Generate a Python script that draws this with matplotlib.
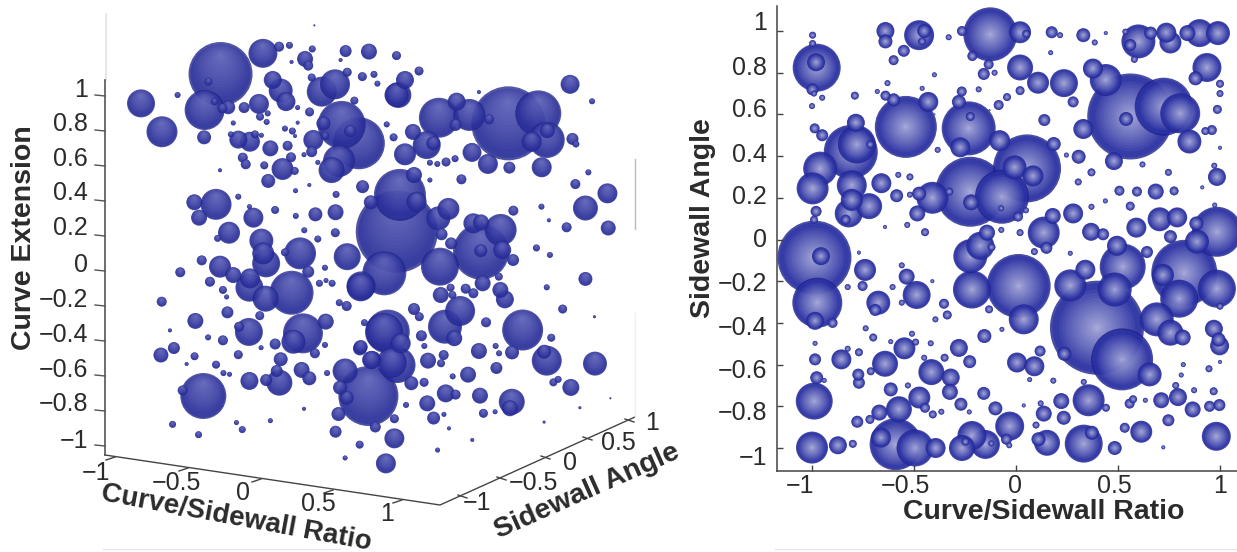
import numpy as np
import matplotlib
matplotlib.use('Agg')
import matplotlib.pyplot as plt
from matplotlib.lines import Line2D
from matplotlib.transforms import Affine2D

plt.rcParams['font.family'] = ['Liberation Sans', 'DejaVu Sans']

# right panel: Curve/Sidewall Ratio vs Sidewall Angle, r = bubble radius
right_x = [-.977,-.98,-.997,-.997,-.998,-.99,-.95,-1.0,-.79,-.64,
 -.64,-.475,-.45,-.46,-.55,-.60,-.33,-.63,-.64,-.60,
 -.68,-.46,-.40,-.43,-.54,-.987,-.95,-.785,-.81,-.78,
 -.715,-.96,-.997,-.805,-.805,-.72,-.82,-.835,-.98,-.99,
 -.66,-.585,-.52,-.577,-.52,-.475,-.41,-.484,-.327,-.446,
 -.533,-.642,-.384,-.988,-.956,-.74,-.56,-.536,-.77,-.126,
 .02,-.265,.05,.175,.216,.33,.386,.44,.17,-.214,
 .02,-.134,-.158,-.105,.108,.235,.28,.377,.44,.6,
 .536,.56,.66,.737,.757,.84,.90,.99,.58,.936,
 .88,1.0,1.0,.987,.56,.724,.805,.85,.928,.96,
 .54,.33,.48,.62,.747,.972,.985,1.0,.913,.685,
 .775,.593,.507,.56,.438,.37,.37,.305,.307,.247,
 .185,.139,.02,-.044,-.085,-.183,-.266,-.28,-.232,-.224,
 -.273,-.08,.054,-.007,.083,-.069,-.224,-.22,-.073,.049,
 .01,.18,.28,.136,-.072,.02,-.142,-.175,-.224,-.12,
 .013,.09,.149,.266,.368,.427,.59,.704,.79,.757,
 .495,.642,.523,.825,.887,.985,.884,.34,.72,.974,
 -.974,-.985,-.899,-.985,-.985,-.977,-.94,-.989,-1.0,-.873,
 -.80,-.856,-.825,-.77,-.773,-.77,-.712,-.642,-.70,-.737,
 -.614,-.547,-.492,-.51,-.418,-.45,-.35,-.415,-.32,-.324,
 -.614,-.53,-.474,-.446,-.408,-.366,-.574,-.67,-.716,-.778,
 -.59,-.662,-.495,-.394,-.675,-.69,-.752,-.825,-.605,-.487,
 -.56,-.353,-.395,-.337,-.41,-.216,.038,-.132,.397,.484,
 .52,.655,.237,.266,.69,.80,.985,1.0,.97,.993,
 .998,.757,.817,.82,.946,1.0,.81,.783,.794,.712,
 .873,.969,.866,.949,.997,.634,.574,.557,.356,.441,
 .222,.121,.136,.234,.098,.038,-.031,-.101,-.158,-.27,
 -.229,-.155,-.28,-.227,-.069,.005,.09,.118,.067,.183,
 .332,-.216,-.15,-.248,-.121,-.265,-.047,-.033,.152,.11,
 .332,.372,.484,.533,.614,.722,.747,.982,-.40,-.13]
right_y = [.824,.85,.98,.94,.72,.70,.68,.64,.69,1.0,
 .95,.98,1.0,.95,.905,.86,.97,.75,.69,.67,
 .71,.725,.79,.66,.54,.533,.50,.56,.42,.456,
 .456,.34,.245,.26,.19,.16,.125,.095,.135,.095,
 .27,.21,.30,.31,.215,.22,.2,.125,.23,.035,
 .07,.06,.43,-.087,-.08,-.146,-.124,-.178,-.063,.984,
 .994,1.0,.986,.994,.98,.98,.945,.99,.896,.88,
 .825,.84,.794,.80,.752,.75,.66,.82,.765,.95,
 .997,.933,.99,.992,.945,.99,.99,.99,.864,.825,
 .773,.747,.70,.624,.59,.637,.605,.47,.52,.525,
 .578,.53,.376,.36,.322,.354,.30,.44,.25,.23,
 .233,.23,.234,.16,.185,.157,.322,.276,.397,.405,
 .458,.573,.714,.683,.645,.72,.71,.66,.533,.59,
 .442,.474,.341,.346,.305,.205,.229,.178,.15,.14,
 .11,.113,.125,.033,.046,.033,.033,-.03,-.08,-.037,
 -.223,-.058,-.04,-.066,.037,.025,.057,.097,.106,.014,
 -.03,-.06,-.13,-.16,-.01,.037,.077,-.145,-.17,.165,
 -.303,-.39,-.40,-.498,-.575,-.663,-.676,-.775,-.998,-.987,
 -.98,-.575,-.524,-.541,-.648,-.687,-.632,-.596,-.47,-.426,
 -.49,-.522,-.492,-.452,-.498,-.567,-.567,-.636,-.662,-.731,
 -.719,-.70,-.758,-.807,-.839,-.826,-.814,-.83,-.863,-.874,
 -.982,-.95,-1.0,-1.0,-.303,-.338,-.223,-.228,-.228,-.266,
 -.303,-.308,-.383,-.362,-.2,-.24,-.383,-.335,-.423,-.24,
 -.575,-.647,-.548,-.22,-.383,-.284,-.236,-.32,-.428,-.48,
 -.51,-.447,-.47,-.60,-.62,-.587,-.65,-.70,-.756,-.771,
 -.723,-.728,-.815,-.80,-.794,-.771,-.766,-.787,-.771,-.807,
 -.775,-.786,-.835,-.855,-.89,-.796,-.895,-.81,-.738,-.79,
 -.827,-.463,-.52,-.586,-.431,-.59,-.608,-.535,-.672,-.677,
 -.683,-.94,-.983,-.97,-.978,-1.0,-.958,-.987,-.975,-.958,
 -.979,-.927,-1.0,-.903,-.922,-.997,-.867,-.944,.6,.62]
right_r = [24,9,3.5,3.5,6,3,3,3,4,9,
 7,15,7,4,6,5,3,3,5,6.5,
 2.5,2.5,2.5,10,31,5,6,9,27,19,
 4,17,16,15,11,13,14,5,5.5,4,
 10,6.5,3.5,3,3,7,16,8,4,4,
 3,2,3,37,9,11,3,8,2,27,
 11,5,4,6,3,7,3,2,2.5,5,
 13,5,6,3,11,14,5.5,10,16,17,
 3,6,6.5,10,11,8,14,12,3.5,14.5,
 7,4,3.5,4.5,43,29,20,12,4,5,
 7,10,9,3,3.5,3,9,2,2,8,
 4.5,5,5,4.5,2.5,3,4,3.5,7,2.5,
 7,6,4.5,4,5,3,5,7,27,4.5,
 10,10.5,34,12,10.5,27,35,8,3,3,
 5,8,10,16,3,3.5,8,14,17,4,
 32,3.5,6,2.5,9,6,10,12,10,6.5,
 10,6,23,33,12,25,7,10,11,2.5,
 25,9,5,2.5,6,6.5,2.5,18.5,16,9,
 4,10,3,4,6,6,4,13,4,3,
 2.5,11,3.5,3,3,3,4,13,9,8,
 7,3,11,5,4,3,13,8,4.5,6,
 26,10,18.5,10,12,6,5,3,3,14,
 3,5,3,4.5,2,19,15,4,47,17,
 31,12,7,16,17,19,19,3.5,9,7,
 9.5,13,8,2.5,3.5,2,2.5,3.5,9,8,
 3,4,8,5.5,6,2.5,4,5,16,4,
 8,3,8,7,3.5,2,14.5,7,6.5,6.5,
 2.5,7,9,6.5,2.5,10,10,5.5,2.5,3,
 3,14.5,14.5,4,3,13,5.5,3,13,7,
 19,7,7,5,11,2,6,14.5,1,1]

# left panel: bubbles as projected on the 3D view (h = screen position, z = Curve Extension)
left_h = [-.564,-.404,-.343,-.304,-.218,-.245,-.233,-.092,-.004,.10,
 -.111,-.296,-.21,-.864,-.785,-.726,-.624,-.626,-.61,-.557,
 -.535,-.587,-.475,-.419,-.415,-.386,-.367,-.337,-.317,-.273,
 -.182,-.132,-.22,-.086,-.029,.015,.028,-.059,-.228,.10,
 -.107,-.042,-.176,-.075,-.117,-.145,-.214,-.22,-.17,.063,
 .089,-.516,-.497,-.453,-.434,-.525,-.41,-.39,-.321,-.293,
 -.273,-.283,-.376,-.311,-.48,-.469,-.399,-.33,-.298,-.284,
 -.249,-.197,-.384,-.566,-.229,-.281,-.028,-.128,-.581,-.663,
 -.645,-.497,-.532,-.575,-.44,-.455,-.358,-.28,-.206,-.13,
 .003,-.248,-.131,-.197,-.41,-.403,-.264,-.321,-.392,-.566,
 -.635,-.716,-.086,-.17,-.233,-.516,-.453,-.296,-.455,-.394,
 -.604,-.555,-.541,-.786,-.538,-.659,-.416,-.457,-.494,-.755,
 -.611,-.555,-.411,-.358,-.253,-.289,-.167,-.17,-.208,-.034,
 -.116,-.088,.053,-.021,-.035,.004,.082,-.094,-.006,-.113,
 -.088,-.162,-.789,-.74,-.662,-.692,-.581,-.497,-.337,-.553,
 -.53,-.455,-.392,-.342,-.352,-.258,-.229,-.629,-.707,-.249,
 -.376,-.504,-.482,-.745,-.647,-.119,-.13,.02,-.039,-.094,
 .06,.092,.092,-.191,-.166,-.143,.522,.635,.667,.669,
 .61,.648,.526,.445,.385,.26,.375,.327,.323,.449,
 .162,.214,.239,.132,.107,.132,.185,.755,.838,.411,
 .764,.777,.824,.775,.896,.813,.899,.742,.675,.647,
 .628,.679,.813,.667,.345,.287,.321,.254,.226,.226,
 .541,.113,.101,.176,.166,.296,.258,.27,.306,.054,
 -.035,.264,.419,.493,.419,.39,.418,.499,.54,.486,
 .425,.361,.39,.492,.509,.304,.267,.311,.067,.116,
 .104,.009,-.038,.166,.186,.194,.205,.219,.278,.268,
 .283,.34,.318,.438,.576,.684,.727,.411,.474,.487,
 .536,.657,.667,.849,.477,.37,.312,.204,.156,.692,
 .71,.758,.286,.323,.415,.535,.528,.216,.136,.24,
 .279,.428,.472,.298,.386,.255,.907,.792,.657,.847]
left_z = [1.12,1.238,1.276,1.284,1.263,1.206,1.168,1.251,1.248,1.225,
 1.2,1.189,1.398,.952,.79,1.0,.914,.758,1.076,.924,
 .93,.962,.928,.949,.876,.895,1.086,1.025,.962,.928,
 1.019,1.061,1.1,1.13,1.105,1.118,1.065,.968,.903,1.0,
 .829,.724,.838,.794,.623,.571,.743,.676,.766,.832,
 .758,.84,.745,.733,.775,.775,.77,.846,.808,.794,
 .842,.766,.695,.71,.642,.604,.598,.577,.644,.566,
 .659,.615,.509,.57,.486,.453,.476,.432,.375,.387,
 .299,.419,.213,.181,.299,.362,.343,.309,.318,.33,
 .387,.227,.213,.177,.168,.095,.095,.101,.038,.019,
 .055,-.013,.076,.013,-.01,-.029,-.048,-.13,-.101,-.164,
 -.067,-.114,-.154,-.181,-.242,-.291,-.261,-.354,-.324,-.345,
 -.385,-.402,-.444,-.423,-.362,-.41,-.295,-.428,-.476,-.091,
 -.187,-.206,-.354,-.301,-.44,-.514,-.53,-.577,-.72,-.672,
 -.73,-.589,-.486,-.446,-.493,-.537,-.541,-.484,-.51,-.589,
 -.596,-.634,-.629,-.644,-.577,-.571,-.619,-.72,-.688,-.793,
 -.861,-.872,-.912,-.882,-.941,-.823,-.924,-.897,-.998,-1.074,
 -1.105,-.962,-.85,-.076,-.06,-.076,.838,.895,.743,.796,
 .733,.587,.585,.606,.672,.87,.886,.962,.829,.861,
 .789,.714,.724,.661,1.0,1.086,1.137,1.061,.964,1.017,
 .749,.72,.558,.491,.438,.354,.24,.244,.284,.362,
 .126,.086,-.051,-.099,.518,.617,.636,.606,.613,.514,
 .339,.429,.219,.39,.543,.349,.295,.204,.152,-.019,
 -.099,.019,.105,.229,.272,.267,.11,.114,.057,-.038,
 -.076,-.107,-.133,-.114,-.168,-.101,-.143,-.143,-.352,-.419,
 -.543,-.514,-.448,-.223,-.267,-.376,-.434,-.518,-.486,-.533,
 -.324,-.234,-.39,-.299,-.343,-.387,-.223,-.463,-.434,-.476,
 -.471,-.467,-.518,-.535,-.56,-.598,-.608,-.642,-.647,-.642,
 -.625,-.671,-.705,-.712,-.718,-.753,-.79,-.762,-.771,-.846,
 -.825,-.819,-.81,-.905,-.971,-1.029,-.733,-.787,-.869,-.267]
left_r = [32,14.5,5,3.5,3.5,8,5,6,8,4.5,
 2,2,1,14,15.5,3,20,7,4,5,
 7,3.5,5.5,10,4,3,9,12,9.5,2.5,
 15,15,4,4.5,4.5,3.5,3,4,4.5,12,
 24,26,7,6,16,13,10,5.5,4,3,
 4,2.5,9,10,4,3,2.5,3,3,3.5,
 2,2,8,5,5,5,4,11,5,4,
 2.5,2.5,7,2,2,2.5,6.5,3.5,15.5,8,
 8,3,11,3.5,10,2.5,4,3,7,8,
 7,3,4.5,3.5,12,11,16,4,14,11,
 5,5,13.5,3,6,8,10,22,14,13,
 5,4,2.5,5,6,8,4.5,14,5,2,
 3,5,2.5,5.5,20,12,8,3,5,14.5,
 3.5,5,19,3.5,7,9,15,12.5,30,7,
 7,3,7.5,6,4,2,4,4.5,7,3,
 2.5,9,6,13,6,8,7,23,5,2,
 2.5,2.5,3.5,3.5,3.5,7,6,5.5,4,2.5,
 10,10,4.5,3.5,2.5,3.5,37,23,18,7.5,
 10,10,6,10,9.5,20,16,9,6,5,
 8,14,7,11,13,9,4.5,9.5,3,2,
 6,3.5,3,5,10,12.5,7.5,5,2,3,
 3.5,3,7,3,5,4.5,3.5,3,3,2.5,
 5,26,41,10,8,11,12,6,6,22,
 14,19,28,16,8,10,6.5,9,6,4,
 8,5,5,8,9,4,8,4,22,10,
 18,9,7,6,4.5,5.5,3,8,5,4,
 17,15,8,5,20.5,4,4.5,8,3,3,
 7,7,15,12,6,8,3,4.5,7,4,
 3.5,8.5,9,5,8,13,8,8,3,6.5,
 2.5,4.5,2.5,2,2,2.5,1,1.5,1.5,1.5]

ratio_ticks = [-1, -0.5, 0, 0.5, 1]
angle_ticks = [-1, -0.8, -0.6, -0.4, -0.2, 0, 0.2, 0.4, 0.6, 0.8, 1]

TEXT = '#2b2b2b'
W, H = 1237, 552
pix = Affine2D().scale(1, -1).translate(0, H)


def lab(v):
    return f'{v:g}'.replace('-', '\u2212')


def draw_spheres(ax, x, y, r, uy, layers):
    # one scatter, points drawn in order so each ball keeps its own shading
    x, y, r = np.array(x), np.array(y), np.array(r, dtype=float)
    order = np.argsort(-r)
    x, y, r = x[order], y[order], r[order]
    xs, ys, ss, cs = [], [], [], []
    for i in range(len(x)):
        for f, off, col in layers:
            xs.append(x[i])
            ys.append(y[i] + off * r[i] / uy)
            ss.append((2 * r[i] * f * 0.72) ** 2)
            cs.append(col)
    ax.scatter(xs, ys, s=ss, c=np.array(cs), linewidths=0)


fig = plt.figure(figsize=(W / 100, H / 100), dpi=100)

# left: 3D view
ax1 = fig.add_axes([0, 0, 660 / W, 1])
ax1.set_xlim((0 - 370) / 265, (660 - 370) / 265)
ax1.set_ylim((270 - H) / 175, 270 / 175)
ax1.axis('off')

left_layers = [(1.0, 0, (30 / 255, 34 / 255, 135 / 255, 0.78)),
               (0.94, 0, (46 / 255, 52 / 255, 162 / 255, 0.65))]
for t in np.linspace(0, 1, 14):
    left_layers.append((0.8 * (1 - t) + 0.05, 0.15 + 0.42 * t, (0.8, 0.8, 1.0, 0.03)))
draw_spheres(ax1, left_h, left_z, left_r, 175, left_layers)

for xs, ys, col, lw in [
    ([106, 106], [14, 80], '#e2e2e2', 1.2),
    ([105, 105], [80, 455], '#555555', 1.2),
    ([105, 440, 635], [455, 505, 417], '#444444', 1.0),
    ([635, 635], [159, 229], '#bbbbbb', 1.0),
    ([635, 635], [313, 417], '#f0f0f0', 1.0),
    ([103, 340], [549, 549], '#e6e6e6', 1.0),
    ([775, 1237], [549, 549], '#e6e6e6', 1.0),
]:
    fig.add_artist(Line2D(xs, ys, transform=pix, color=col, lw=lw))

z_label_y = [90, 124, 159, 193, 228, 265, 300, 335, 370, 404, 441]
for v, ly in zip(angle_ticks[::-1], z_label_y):
    ty = 270 - 175 * v
    fig.add_artist(Line2D([95, 105], [ty, ty + 1], transform=pix, color='#555555', lw=1))
    fig.text(88, ly, lab(v), transform=pix, ha='right', va='center', fontsize=18, color=TEXT)

x_pos = [(110, 473), (176, 483), (243, 493), (318, 504), (387, 514)]
x_tick = [(115, 457), (188, 468), (261, 479), (333, 490), (402, 500)]
for v, p, t in zip(ratio_ticks, x_pos, x_tick):
    fig.add_artist(Line2D([t[0] - 9, t[0]], [t[1] + 3, t[1]], transform=pix, color='#444444', lw=1))
    fig.text(p[0], p[1], lab(v), transform=pix, ha='right' if v == -1 else 'center', va='center',
             fontsize=18, color=TEXT)

a_pos = [(477, 503), (533, 483), (570, 463), (618, 443), (652, 423)]
a_tick = [(458, 497), (497, 479), (541, 458), (583, 439), (625, 421)]
for v, p, t in zip(ratio_ticks, a_pos, a_tick):
    fig.add_artist(Line2D([t[0], t[0] + 9], [t[1] - 2, t[1] + 1], transform=pix, color='#444444', lw=1))
    fig.text(p[0], p[1], lab(v), transform=pix, ha='center', va='center', fontsize=18, color=TEXT)

fig.text(24, 238, 'Curve Extension', transform=pix, rotation=90, ha='center', va='center',
         fontsize=20.5, fontweight='bold', color=TEXT)
fig.text(236, 518, 'Curve/Sidewall Ratio', transform=pix, rotation=-10.5, ha='center', va='center',
         rotation_mode='anchor', fontsize=20, fontweight='bold', color=TEXT)
fig.text(587, 491, 'Sidewall Angle', transform=pix, rotation=24, ha='center', va='center',
         rotation_mode='anchor', fontsize=20.5, fontweight='bold', color=TEXT)

# right: top view
ax2 = fig.add_axes([777 / W, (H - 471) / H, (W - 777) / W, (471 - 6) / H])
ax2.set_xlim((777 - 1016) / 204, (W - 1016) / 204)
ax2.set_ylim((239.5 - 471) / 208.5, (239.5 - 6) / 208.5)
for s in ['top', 'right']:
    ax2.spines[s].set_visible(False)
for s in ['left', 'bottom']:
    ax2.spines[s].set_color('#444444')
    ax2.spines[s].set_linewidth(1.1)
ax2.set_xticks(ratio_ticks)
ax2.set_yticks(angle_ticks)
ax2.set_xticklabels([])
ax2.set_yticklabels([])
ax2.tick_params(direction='in', length=4, width=1, color='#444444')

right_layers = [(1.0, 0, (28 / 255, 32 / 255, 140 / 255, 0.8)),
                (0.95, 0, (46 / 255, 54 / 255, 170 / 255, 0.7))]
for t in np.linspace(0, 1, 18):
    right_layers.append((0.78 * (1 - t) ** 1.5 + 0.03, 0, (0.95, 0.95, 1.0, 0.055)))
draw_spheres(ax2, right_x, right_y, right_r, 208.5, right_layers)

y_label_y = [23, 68, 110, 155, 197, 240, 284, 328, 371, 413, 458]
for v, ly in zip(angle_ticks[::-1], y_label_y):
    fig.text(767, ly, lab(v), transform=pix, ha='right', va='center', fontsize=18, color=TEXT)
for v, lx in zip(ratio_ticks, [800, 905, 1015, 1114, 1220]):
    fig.text(lx, 486, lab(v), transform=pix, ha='center', va='center', fontsize=18, color=TEXT)

fig.text(703, 218, 'Sidewall Angle', transform=pix, rotation=90, ha='center', va='center',
         fontsize=20.5, fontweight='bold', color=TEXT)
fig.text(1044, 512, 'Curve/Sidewall Ratio', transform=pix, ha='center', va='center',
         fontsize=20.5, fontweight='bold', color=TEXT)

fig.savefig('out.png', dpi=100)
